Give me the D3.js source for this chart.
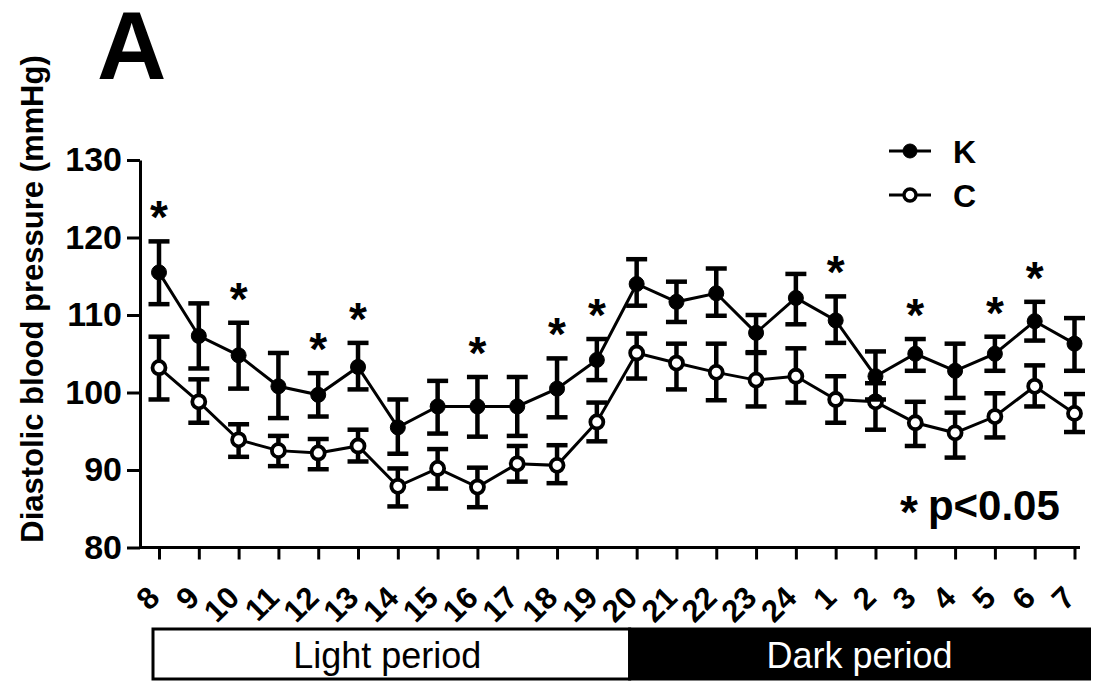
<!DOCTYPE html>
<html>
<head>
<meta charset="utf-8">
<script src="https://cdn.jsdelivr.net/npm/d3@7"></script>
<style>
  body { margin: 0; background: #fff; }
  svg { display: block; font-family: "Liberation Sans", Arial, Helvetica, sans-serif; }
</style>
</head>
<body>
<svg id="chart" width="1095" height="682"></svg>
<script>
// clock hour of each reading (light period starts at 8)
const hours = ['8', '9', '10', '11', '12', '13', '14', '15', '16', '17', '18', '19',
  '20', '21', '22', '23', '24', '1', '2', '3', '4', '5', '6', '7'];

// group K (filled circles)
const kMean = [115.5, 107.3, 104.8, 100.8, 99.7, 103.3, 95.5, 98.2, 98.2, 98.2, 100.5, 104.2,
  114.0, 111.7, 112.8, 107.7, 112.2, 109.3, 102.1, 105.0, 102.8, 105.0, 109.2, 106.3];
const kHigh = [119.5, 111.5, 109.0, 105.1, 102.5, 106.4, 99.1, 101.5, 102.0, 102.0, 104.4, 106.9,
  117.2, 114.3, 116.0, 110.0, 115.3, 112.4, 105.3, 106.9, 106.3, 107.2, 111.7, 109.6];
const kLow = [111.4, 103.1, 100.5, 96.7, 96.9, 100.4, 92.1, 94.7, 94.3, 94.4, 96.8, 101.6,
  111.2, 109.1, 109.9, 105.2, 108.8, 106.4, 99.1, 102.8, 99.3, 102.8, 106.7, 102.8];

// group C (open circles)
const cMean = [103.2, 98.8, 93.9, 92.5, 92.2, 93.1, 87.9, 90.2, 87.8, 90.8, 90.6, 96.2,
  105.1, 103.8, 102.6, 101.6, 102.1, 99.1, 98.8, 96.1, 94.8, 96.9, 100.8, 97.3];
const cHigh = [107.2, 101.7, 95.9, 94.4, 94.0, 95.2, 90.2, 92.7, 90.3, 93.1, 93.2, 98.7,
  107.6, 106.3, 106.3, 105.1, 105.7, 102.1, 101.2, 98.8, 97.4, 99.9, 103.5, 99.8];
const cLow = [99.1, 96.1, 91.7, 90.5, 90.1, 91.1, 85.3, 87.6, 85.2, 88.5, 88.3, 93.7,
  101.8, 100.4, 99.0, 98.2, 98.7, 96.1, 95.2, 93.1, 91.6, 94.2, 98.2, 94.9];

// hours where K differs from C (p<0.05)
const significant = ['8', '10', '12', '13', '16', '18', '19', '1', '3', '5', '6'];

const yTicks = [80, 90, 100, 110, 120, 130];

const periodNames = ['Light period', 'Dark period'];
const periodStart = ['8', '20'];
const periodEnd = ['20', '7'];

const svg = d3.select('#chart');

const x = d3.scalePoint().domain(hours).range([159, 1074.5]);
const y = d3.scaleLinear().domain([80, 130]).range([547.5, 160]);

const series = [
  { name: 'C', mean: cMean, high: cHigh, low: cLow, fill: '#fff' },
  { name: 'K', mean: kMean, high: kHigh, low: kLow, fill: '#000' },
];

// panel letter
svg.append('text')
  .attr('x', 97).attr('y', 79)
  .attr('font-size', 96).attr('font-weight', 'bold')
  .text('A');

// y axis
const yAxis = svg.append('g')
  .attr('transform', 'translate(140,0)')
  .call(d3.axisLeft(y).tickValues(yTicks).tickSize(13).tickPadding(5).tickSizeOuter(0));
yAxis.select('.domain').attr('stroke-width', 3);
yAxis.selectAll('.tick line').attr('stroke-width', 3);
yAxis.selectAll('.tick text')
  .attr('font-size', 34).attr('font-weight', 'bold')
  .attr('font-family', '"Liberation Sans", Arial, sans-serif')
  .attr('fill', '#000');

svg.append('text')
  .attr('transform', 'translate(43,299) rotate(-90)')
  .attr('text-anchor', 'middle')
  .attr('font-size', 31).attr('font-weight', 'bold')
  .text('Diastolic blood pressure (mmHg)');

// x axis: line runs from the y axis past the last hour
const xAxis = svg.append('g')
  .attr('transform', `translate(0,${y(80)})`)
  .call(d3.axisBottom(x).tickSize(12).tickSizeOuter(0));
xAxis.select('.domain').attr('d', 'M140,0H1080').attr('stroke-width', 3);
xAxis.selectAll('.tick line').attr('stroke-width', 3);
xAxis.selectAll('.tick text')
  .attr('font-size', 31).attr('font-weight', 'bold')
  .attr('font-family', '"Liberation Sans", Arial, sans-serif')
  .attr('fill', '#000')
  .attr('text-anchor', 'end')
  .attr('y', 0).attr('dy', 0)
  .attr('transform', 'translate(2,52) rotate(-45)');

// light / dark period bars
const periods = svg.append('g');
periodNames.forEach((name, i) => {
  const x0 = i === 0 ? x(periodStart[i]) - 6 : x(periodStart[i]) - 7;
  const x1 = i === 0 ? x(periodEnd[i]) - 7 : x(periodEnd[i]) + 15;
  const dark = i === 1;
  periods.append('rect')
    .attr('x', x0).attr('y', 629)
    .attr('width', x1 - x0).attr('height', 50)
    .attr('fill', dark ? '#000' : '#fff')
    .attr('stroke', '#000').attr('stroke-width', 3);
  periods.append('text')
    .attr('x', (x0 + x1) / 2 - (dark ? 0 : 4)).attr('y', 668)
    .attr('text-anchor', 'middle')
    .attr('font-size', 36)
    .attr('fill', dark ? '#fff' : '#000')
    .text(name);
});

// data
const line = d3.line().x((d, i) => x(hours[i])).y((d) => y(d));

series.forEach((s) => {
  const g = svg.append('g');
  g.append('path')
    .attr('d', line(s.mean))
    .attr('fill', 'none').attr('stroke', '#000').attr('stroke-width', 3);

  const bars = g.selectAll('.err').data(hours).enter().append('g');
  bars.append('line')
    .attr('x1', (h) => x(h)).attr('x2', (h) => x(h))
    .attr('y1', (h, i) => y(s.high[i])).attr('y2', (h, i) => y(s.low[i]));
  bars.append('line')
    .attr('x1', (h) => x(h) - 10.5).attr('x2', (h) => x(h) + 10.5)
    .attr('y1', (h, i) => y(s.high[i])).attr('y2', (h, i) => y(s.high[i]));
  bars.append('line')
    .attr('x1', (h) => x(h) - 10.5).attr('x2', (h) => x(h) + 10.5)
    .attr('y1', (h, i) => y(s.low[i])).attr('y2', (h, i) => y(s.low[i]));
  bars.selectAll('line').attr('stroke', '#000').attr('stroke-width', 4.5);

  g.selectAll('circle').data(s.mean).enter().append('circle')
    .attr('cx', (d, i) => x(hours[i])).attr('cy', (d) => y(d))
    .attr('r', s.name === 'K' ? 7.5 : 6.5)
    .attr('fill', s.fill)
    .attr('stroke', '#000').attr('stroke-width', s.name === 'K' ? 1 : 3.8);
});

// significance marks above K upper error bar
svg.append('g').selectAll('text').data(significant).enter().append('text')
  .attr('x', (h) => x(h))
  .attr('y', (h) => y(kHigh[hours.indexOf(h)]) - 33 + 25)
  .attr('text-anchor', 'middle')
  .attr('font-size', 46).attr('font-weight', 'bold')
  .text('*');

// legend
const legend = svg.append('g').attr('transform', 'translate(889,151)');
['K', 'C'].forEach((name, i) => {
  const row = legend.append('g').attr('transform', `translate(0,${i * 44})`);
  row.append('line').attr('x1', 0).attr('x2', 42)
    .attr('stroke', '#000').attr('stroke-width', 3);
  row.append('circle').attr('cx', 21).attr('r', name === 'K' ? 7 : 6)
    .attr('fill', name === 'K' ? '#000' : '#fff')
    .attr('stroke', '#000').attr('stroke-width', name === 'K' ? 1 : 3.4);
  row.append('text').attr('x', 64).attr('y', 11.5)
    .attr('font-size', 32).attr('font-weight', 'bold')
    .text(name);
});

// p-value note
const note = svg.append('text').attr('x', 900).attr('y', 520).attr('font-weight', 'bold');
note.append('tspan').attr('font-size', 46).attr('dy', 8).text('*');
note.append('tspan').attr('font-size', 42).attr('dx', 10).attr('dy', -8).text('p<0.05');
</script>
</body>
</html>
